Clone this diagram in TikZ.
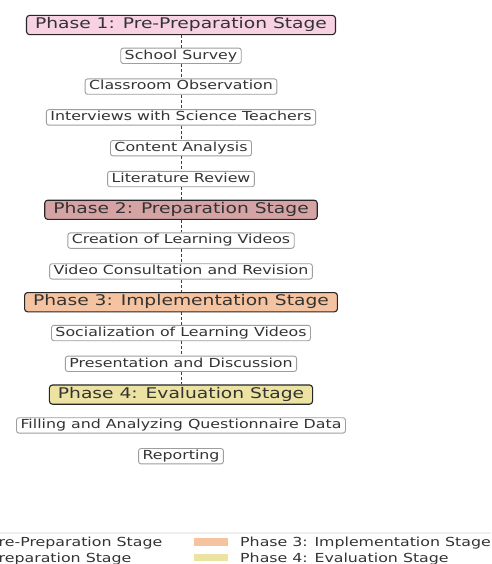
\documentclass[tikz,border=0pt]{standalone}
\usepackage{fontspec}
\setmainfont[FakeStretch=1.27]{DejaVu Sans}
\definecolor{pone}{HTML}{F8D2E3}
\definecolor{ptwo}{HTML}{D5A3A3}
\definecolor{pthree}{HTML}{F6C3A0}
\definecolor{pfour}{HTML}{ECE2A2}
\definecolor{txt}{HTML}{333333}
\begin{document}
\begin{tikzpicture}[x=1pt,y=-1pt,
  phase/.style={draw=black!85, line width=1.1pt, rounded corners=3pt, inner xsep=8.5pt, inner ysep=2.6pt,
    text height=10.7pt, text depth=3.3pt, font=\fontsize{14.7}{17}\selectfont, text=txt},
  sub/.style={draw=black!38, line width=0.9pt, rounded corners=2.5pt, fill=white, inner xsep=4pt, inner ysep=1.6pt,
    text height=9.4pt, text depth=2.8pt, font=\fontsize{12.45}{15}\selectfont, text=txt},
  link/.style={draw=black!75, line width=0.9pt, dash pattern=on 3pt off 2pt},
  legtext/.style={inner sep=0pt, font=\fontsize{12.45}{15}\selectfont, text=txt},
  patch/.style={minimum width=34pt, minimum height=7.5pt, inner sep=0pt}]
\useasboundingbox (0,0) rectangle (491,564);
\clip (0,0) rectangle (491,564);
\fill[white] (0,0) rectangle (491,564);
% nodes
\node[phase, fill=pone] (p1) at (181,25) {Phase 1: Pre-Preparation Stage};
\node[sub] (s1) at (181,55.8) {School Survey};
\node[sub] (s2) at (181,86.6) {Classroom Observation};
\node[sub] (s3) at (181,117.4) {Interviews with Science Teachers};
\node[sub] (s4) at (181,148.2) {Content Analysis};
\node[sub] (s5) at (181,179) {Literature Review};
\node[phase, fill=ptwo] (p2) at (181,209.8) {Phase 2: Preparation Stage};
\node[sub] (s6) at (181,240.6) {Creation of Learning Videos};
\node[sub] (s7) at (181,271.4) {Video Consultation and Revision};
\node[phase, fill=pthree] (p3) at (181,302.2) {Phase 3: Implementation Stage};
\node[sub] (s8) at (181,333) {Socialization of Learning Videos};
\node[sub] (s9) at (181,363.8) {Presentation and Discussion};
\node[phase, fill=pfour] (p4) at (181,394.6) {Phase 4: Evaluation Stage};
\node[sub] (s10) at (181,425.4) {Filling and Analyzing Questionnaire Data};
\node[sub] (s11) at (181,456.2) {Reporting};
% connectors
\foreach \a/\b in {p1/s1, s1/s2, s2/s3, s3/s4, s4/s5, s5/p2, p2/s6, s6/s7, s7/p3, p3/s8, s8/s9, s9/p4}
  \draw[link] (\a.south) -- (\b.north);
% legend
\draw[draw=black!18, line width=0.8pt, fill=white, rounded corners=3pt] (-150,533) rectangle (520,620);
\node[legtext, anchor=base east] (l1) at (162.5,546) {Phase 1: Pre-Preparation Stage};
\node[legtext, anchor=base west] (l2) at (l1.base west |- 0,562) {Phase 2: Preparation Stage};
\node[patch, fill=pthree] (k3) at (211,542) {};
\node[patch, fill=pfour] (k4) at (211,557.5) {};
\node[legtext, anchor=base west] (l3) at (240,546) {Phase 3: Implementation Stage};
\node[legtext, anchor=base west] (l4) at (240,562) {Phase 4: Evaluation Stage};
\end{tikzpicture}
\end{document}
